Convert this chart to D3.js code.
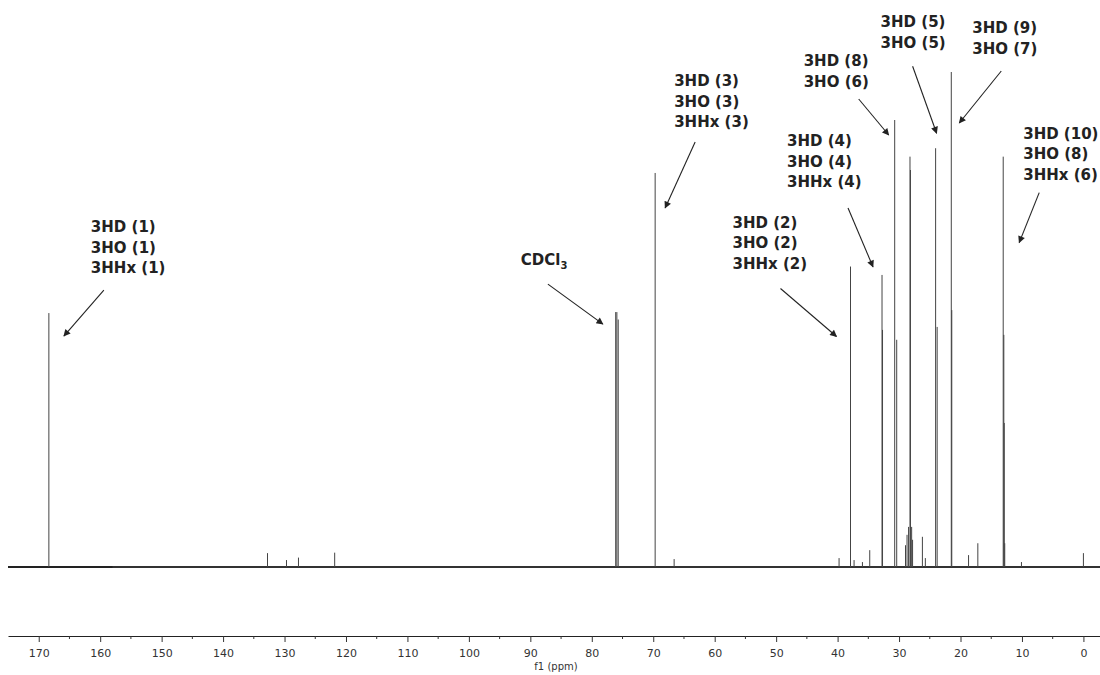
<!DOCTYPE html>
<html>
<head>
<meta charset="utf-8">
<script src="https://cdn.jsdelivr.net/npm/d3@7"></script>
<style>
  body { margin: 0; background: #fff; }
  .canvas svg { display: block; }
</style>
</head>
<body>
<div class="canvas"></div>
<script>
// peak positions (ppm) and heights (relative intensity, tallest = 100)
const peakPpm = [168.35, 132.77, 129.68, 127.73, 121.84,
  76.11, 75.92, 75.70, 69.69, 66.6,
  39.76, 37.90, 37.32, 35.96, 34.77, 32.77, 32.69,
  30.71, 30.38, 28.22, 28.14,
  28.95, 28.70, 28.45, 27.95, 27.80,
  26.20, 25.72, 24.05, 23.80, 21.50, 21.42,
  18.69, 17.18, 13.05, 12.95, 12.88, 12.80, 10.08, 0.0];
const peakHeight = [51.3, 2.8, 1.4, 1.9, 2.9,
  51.5, 51.5, 50.0, 79.6, 1.6,
  1.8, 60.7, 1.4, 1.0, 3.4, 59.0, 47.9,
  90.3, 45.9, 82.9, 80.2,
  4.4, 6.5, 8.1, 8.1, 5.5,
  6.1, 1.8, 84.6, 48.5, 100, 51.9,
  2.4, 4.8, 82.9, 46.9, 29.1, 4.8, 1.0, 2.8];

// axis ticks
const majorTicks = [170, 160, 150, 140, 130, 120, 110, 100, 90, 80, 70, 60, 50, 40, 30, 20, 10, 0];
const minorTicks = [165, 155, 145, 135, 125, 115, 105, 95, 85, 75, 65, 55, 45, 35, 25, 15, 5];

// annotations: text lines and the peak (index into peakPpm) the arrow points at
const annoText = [
  ["3HD (1)", "3HO (1)", "3HHx (1)"],
  ["CDCl|3"],
  ["3HD (3)", "3HO (3)", "3HHx (3)"],
  ["3HD (2)", "3HO (2)", "3HHx (2)"],
  ["3HD (4)", "3HO (4)", "3HHx (4)"],
  ["3HD (8)", "3HO (6)"],
  ["3HD (5)", "3HO (5)"],
  ["3HD (9)", "3HO (7)"],
  ["3HD (10)", "3HO (8)", "3HHx (6)"]
];
const annoPeak = [0, 6, 8, 11, 15, 17, 28, 30, 34];

// layout offsets from the peak top (pixels): text anchor, arrow start, arrow tip
const annoLayout = [
  { tx: 42, ty: -81, x1: 55, y1: -23, x2: 15, y2: 23 },
  { tx: -96, ty: -47, x1: -69, y1: -28, x2: -14, y2: 12 },
  { tx: 19, ty: -87, x1: 40, y1: -31, x2: 10, y2: 35 },
  { tx: -118, ty: -39, x1: -70, y1: 22, x2: -14, y2: 70 },
  { tx: -95, ty: -129, x1: -34, y1: -67, x2: -9, y2: -8 },
  { tx: -91, ty: -54, x1: -36, y1: -21, x2: -6, y2: 15 },
  { tx: -55, ty: -121, x1: -23, y1: -82, x2: 1, y2: -15 },
  { tx: 21, ty: -39, x1: 50, y1: -1, x2: 8, y2: 51 },
  { tx: 20, ty: -18, x1: 36, y1: 36, x2: 16, y2: 86 }
];

const width = 1100;
const height = 675;
const axisY = 636;

const svg = d3
  .select(".canvas")
  .append("svg")
  .attr("width", width)
  .attr("height", height);

const x = d3.scaleLinear().domain([175, -2.7]).range([8, 1100]);
const y = d3.scaleLinear().domain([0, 100]).range([567, 72]);

// arrowhead
svg.append("defs")
  .append("marker")
  .attr("id", "arrow")
  .attr("viewBox", "0 0 10 10")
  .attr("refX", 9)
  .attr("refY", 5)
  .attr("markerWidth", 9)
  .attr("markerHeight", 7)
  .attr("markerUnits", "userSpaceOnUse")
  .attr("orient", "auto")
  .append("path")
  .attr("d", "M0,0 L10,5 L0,10 z")
  .attr("fill", "#222");

// baseline (noise floor)
svg.append("line")
  .attr("x1", x(175)).attr("x2", x(-2.7))
  .attr("y1", y(0)).attr("y2", y(0))
  .attr("stroke", "#333")
  .attr("stroke-width", 1.8);
svg.append("line")
  .attr("x1", x(175)).attr("x2", x(158))
  .attr("y1", y(0)).attr("y2", y(0))
  .attr("stroke", "#222")
  .attr("stroke-width", 2.1);

// peaks
svg.append("g")
  .selectAll("line")
  .data(peakPpm.map((p, i) => ({ ppm: p, h: peakHeight[i] })))
  .enter()
  .append("line")
  .attr("x1", d => x(d.ppm))
  .attr("x2", d => x(d.ppm))
  .attr("y1", y(0))
  .attr("y2", d => y(d.h))
  .attr("stroke", "#444")
  .attr("stroke-width", 1);

// axis
const xAxis = d3.axisBottom(x).tickValues(majorTicks).tickSize(6).tickSizeOuter(0).tickFormat(d3.format("d"));
const axisGroup = svg.append("g").attr("transform", `translate(0, ${axisY})`).call(xAxis);
axisGroup.select(".domain").attr("stroke", "#222").attr("stroke-width", 1.2);
axisGroup.selectAll(".tick line").attr("stroke", "#333");
axisGroup.selectAll("text")
  .attr("y", 13)
  .attr("font-family", "DejaVu Sans, Verdana, sans-serif")
  .attr("font-size", 11)
  .attr("fill", "#333");

svg.append("g")
  .selectAll("line")
  .data(minorTicks)
  .enter()
  .append("line")
  .attr("x1", d => x(d)).attr("x2", d => x(d))
  .attr("y1", axisY).attr("y2", axisY + 3)
  .attr("stroke", "#333");

svg.append("text")
  .attr("x", 556)
  .attr("y", 670)
  .attr("text-anchor", "middle")
  .attr("font-family", "DejaVu Sans, Verdana, sans-serif")
  .attr("font-size", 10)
  .attr("fill", "#333")
  .text("f1 (ppm)");

// annotations
const annoGroup = svg.append("g");
annoText.forEach((lines, i) => {
  const p = annoPeak[i];
  const px = x(peakPpm[p]);
  const py = y(peakHeight[p]);
  const L = annoLayout[i];

  annoGroup.append("line")
    .attr("x1", px + L.x1).attr("y1", py + L.y1)
    .attr("x2", px + L.x2).attr("y2", py + L.y2)
    .attr("stroke", "#222")
    .attr("stroke-width", 1.1)
    .attr("marker-end", "url(#arrow)");

  const t = annoGroup.append("text")
    .attr("x", px + L.tx)
    .attr("y", py + L.ty)
    .attr("font-family", "DejaVu Sans, Verdana, sans-serif")
    .attr("font-weight", "bold")
    .attr("font-size", 15)
    .attr("fill", "#222");

  lines.forEach((s, k) => {
    const parts = s.split("|");
    t.append("tspan")
      .attr("x", px + L.tx)
      .attr("dy", k === 0 ? 0 : 20.7)
      .text(parts[0]);
    if (parts[1]) {
      t.append("tspan")
        .attr("dy", 4)
        .attr("font-size", 10)
        .text(parts[1]);
    }
  });
});
</script>
</body>
</html>
